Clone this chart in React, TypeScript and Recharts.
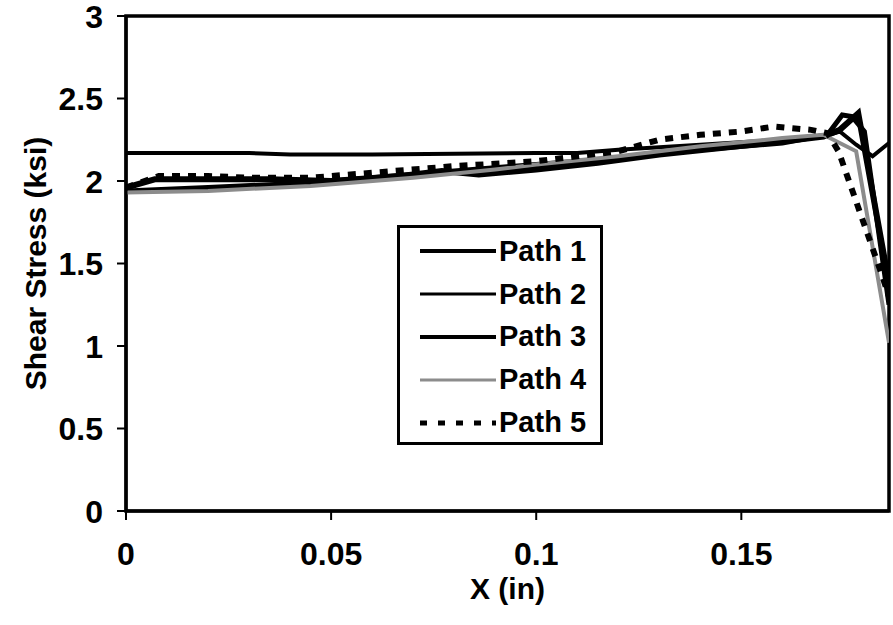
import React from "react";
import { LineChart, Line, XAxis, YAxis, Legend, ReferenceArea } from "recharts";

const X_TICKS = [0, 0.05, 0.1, 0.15];
const Y_TICKS = [0, 0.5, 1, 1.5, 2, 2.5, 3];
const X_MAX = 0.186;
const Y_MAX = 3;

// values
const path1X = [0, 0.007, 0.02, 0.035, 0.05, 0.067, 0.077, 0.086, 0.1, 0.115, 0.13, 0.145, 0.16, 0.17, 0.174, 0.1785, 0.186];
const path1Y = [1.96, 2.01, 2.01, 2.01, 2.0, 2.03, 2.06, 2.04, 2.07, 2.11, 2.16, 2.2, 2.24, 2.27, 2.31, 2.41, 1.38];

const path2X = [0, 0.03, 0.04, 0.06, 0.1, 0.11, 0.12, 0.14, 0.16, 0.17, 0.174, 0.178, 0.182, 0.186];
const path2Y = [2.17, 2.17, 2.16, 2.16, 2.17, 2.17, 2.19, 2.22, 2.25, 2.27, 2.3, 2.22, 2.15, 2.23];

const path3X = [0, 0.02, 0.045, 0.06, 0.08, 0.1, 0.12, 0.14, 0.16, 0.171, 0.1746, 0.177, 0.18, 0.186];
const path3Y = [1.94, 1.96, 1.99, 2.02, 2.06, 2.1, 2.14, 2.19, 2.23, 2.28, 2.4, 2.39, 2.3, 1.25];

const path4X = [0, 0.02, 0.045, 0.07, 0.09, 0.1, 0.12, 0.14, 0.16, 0.17, 0.178, 0.186];
const path4Y = [1.93, 1.94, 1.97, 2.02, 2.07, 2.1, 2.15, 2.21, 2.26, 2.28, 2.18, 1.02];

const path5X = [0, 0.008, 0.02, 0.03, 0.045, 0.06, 0.08, 0.1, 0.12, 0.13, 0.14, 0.15, 0.158, 0.167, 0.171, 0.1737, 0.184, 0.186];
const path5Y = [1.96, 2.03, 2.03, 2.02, 2.02, 2.05, 2.09, 2.12, 2.18, 2.25, 2.28, 2.3, 2.33, 2.31, 2.29, 2.18, 1.45, 1.3];

const toPoints = (xs: number[], ys: number[]) => xs.map((x, i) => ({ x, y: ys[i] }));

const SERIES = [
  { name: "Path 1", data: toPoints(path1X, path1Y), stroke: "#000", width: 6, dash: undefined, legendWidth: 4 },
  { name: "Path 2", data: toPoints(path2X, path2Y), stroke: "#000", width: 4, dash: undefined, legendWidth: 3 },
  { name: "Path 3", data: toPoints(path3X, path3Y), stroke: "#000", width: 5, dash: undefined, legendWidth: 4 },
  { name: "Path 4", data: toPoints(path4X, path4Y), stroke: "#8c8c8c", width: 4, dash: undefined, legendWidth: 3 },
  { name: "Path 5", data: toPoints(path5X, path5Y), stroke: "#000", width: 6, dash: "8 8", legendWidth: 5 },
];

const SANS = "'Liberation Sans', Arial, sans-serif";

function XTick(props: any) {
  const { x, y, payload } = props;
  return (
    <text x={x} y={y} dy="0.71em" textAnchor="middle" fill="#000" fontSize={32} fontWeight="bold" fontFamily={SANS}>
      {String(payload.value)}
    </text>
  );
}

function YTick(props: any) {
  const { x, y, payload } = props;
  return (
    <text x={x} y={y} dy="0.36em" textAnchor="end" fill="#000" fontSize={32} fontWeight="bold" fontFamily={SANS}>
      {String(payload.value)}
    </text>
  );
}

function XLabel(props: any) {
  const vb = props.viewBox;
  return (
    <text x={vb.x + vb.width / 2} y={vb.y + 88} textAnchor="middle" fill="#000" fontSize={30} fontWeight="bold" fontFamily={SANS}>
      X (in)
    </text>
  );
}

function LegendBox() {
  return (
    <div
      style={{
        border: "3px solid #000",
        background: "#fff",
        width: 206,
        height: 220,
        boxSizing: "border-box",
        padding: "2px 0 0 20px",
      }}
    >
      {SERIES.map((s) => (
        <div key={s.name} style={{ display: "flex", alignItems: "center", height: 42.8 }}>
          <svg width={76} height={10}>
            <line x1={0} y1={5} x2={76} y2={5} stroke={s.stroke} strokeWidth={s.legendWidth} strokeDasharray={s.dash ? "7 11" : undefined} />
          </svg>
          <span style={{ fontFamily: SANS, fontWeight: "bold", fontSize: 29, marginLeft: 3, color: "#000" }}>
            {s.name}
          </span>
        </div>
      ))}
    </div>
  );
}

export default function App() {
  return (
    <div style={{ position: "absolute", left: 0, top: 0, width: 893, height: 625, background: "#fff" }}>
      <LineChart width={893} height={625} margin={{ top: 16, right: 4, left: 0, bottom: 0 }}>
        <XAxis
          type="number"
          dataKey="x"
          domain={[0, X_MAX]}
          ticks={X_TICKS}
          allowDataOverflow
          height={114}
          tickSize={9}
          tickMargin={22}
          axisLine={{ stroke: "#000", strokeWidth: 3 }}
          tickLine={{ stroke: "#000", strokeWidth: 2 }}
          tick={<XTick />}
          label={{ content: (p: any) => <XLabel {...p} /> }}
        />
        <YAxis
          type="number"
          domain={[0, Y_MAX]}
          ticks={Y_TICKS}
          width={126}
          tickSize={9}
          tickMargin={14}
          axisLine={{ stroke: "#000", strokeWidth: 3 }}
          tickLine={{ stroke: "#000", strokeWidth: 2 }}
          tick={<YTick />}
          label={{ value: "Shear Stress (ksi)", angle: -90, position: "insideLeft", offset: 35, style: { textAnchor: "middle", fontSize: 30, fontWeight: "bold", fontFamily: SANS }, fill: "#000" }}
        />
        <ReferenceArea x1={0} x2={X_MAX} y1={0} y2={Y_MAX} fill="none" stroke="#000" strokeWidth={3.5} ifOverflow="visible" />
        <Legend
          layout="vertical"
          align="center"
          verticalAlign="middle"
          content={() => <LegendBox />}
          wrapperStyle={{ left: 397, top: 225, width: 206, height: 220 }}
        />
        {SERIES.map((s) => (
          <Line
            key={s.name}
            name={s.name}
            data={s.data}
            dataKey="y"
            type="linear"
            stroke={s.stroke}
            strokeWidth={s.width}
            strokeDasharray={s.dash}
            dot={false}
            activeDot={false}
            isAnimationActive={false}
          />
        ))}
      </LineChart>
    </div>
  );
}
